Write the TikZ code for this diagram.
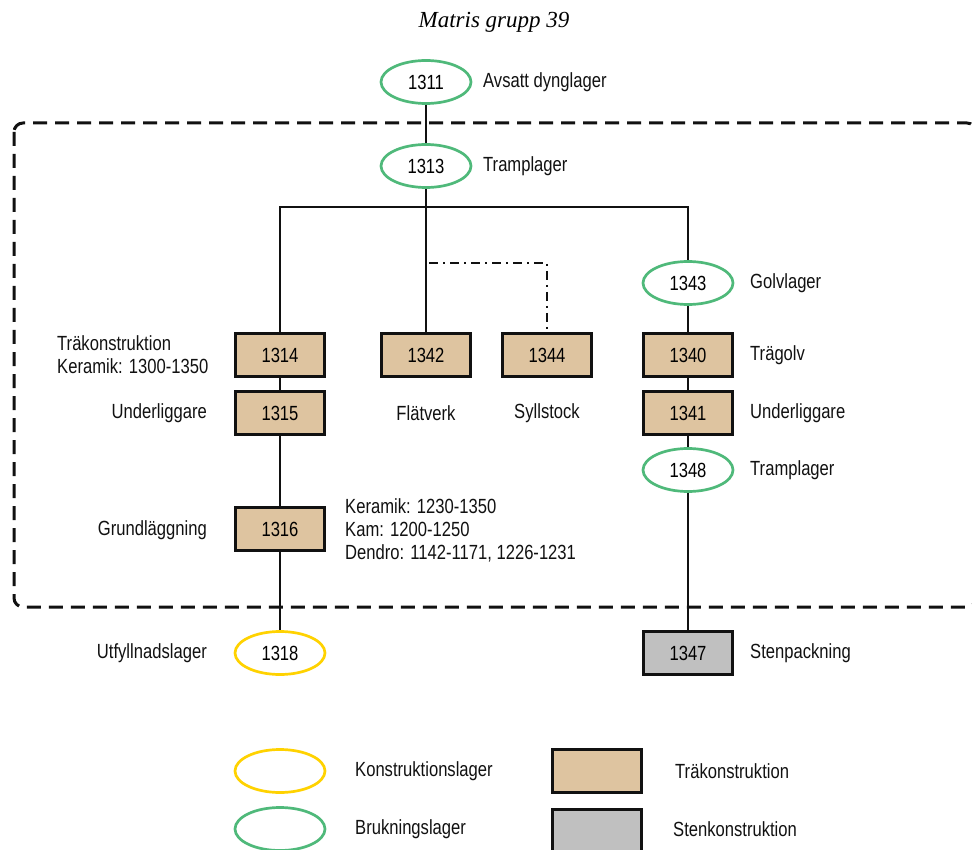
\documentclass[tikz,border=0pt]{standalone}
\usepackage{fontspec}
\setmainfont{Liberation Sans}[FakeStretch=0.81]
\newfontfamily\titlefont{Liberation Serif}
\usepackage{xcolor}
\usepackage{tikz}
\usetikzlibrary{positioning,shapes.geometric}
\definecolor{brukgreen}{HTML}{4FB97A}
\definecolor{konstyellow}{HTML}{FFD200}
\definecolor{woodtan}{HTML}{DEC4A0}
\definecolor{stonegray}{HTML}{C0C0C0}
\definecolor{ink}{HTML}{111111}
\newcommand{\lblsize}{\fontsize{20.5}{23}\selectfont}
\tikzset{
  layer/.style={ellipse,draw,line width=2.7pt,fill=white,inner sep=0pt,
                minimum width=90pt,minimum height=43pt,font=\lblsize},
  bruk/.style={layer,draw=brukgreen},
  konst/.style={layer,draw=konstyellow},
  woodbox/.style={rectangle,draw=ink,fill=woodtan,line width=3pt,
                  minimum width=89pt,minimum height=43pt,font=\lblsize},
  stonebox/.style={woodbox,fill=stonegray},
  lbl/.style={font=\lblsize,inner sep=0pt,text=ink},
  link/.style={draw=ink,line width=2.8pt},
  linkdd/.style={link,dash pattern=on 9pt off 5pt on 2pt off 5pt},
  grpbox/.style={draw=ink,line width=3pt,dash pattern=on 14pt off 8pt,
                 rounded corners=9pt},
}
\begin{document}
\begin{tikzpicture}[x=1pt,y=-1pt]
  \useasboundingbox (0,0) rectangle (972,850);
  % Title
  \node[font=\titlefont\itshape\fontsize{23}{26}\selectfont,inner sep=0pt]
    (title) at (494,22) {Matris grupp 39};
  % Group frame
  \draw[grpbox] (14,123) rectangle (976,607);
  % Layers
  \node[bruk] (n1311) at (426,82) {1311};
  \node[bruk] (n1313) at (426,166) {1313};
  \node[woodbox] (n1314) at (280,355) {1314};
  \node[woodbox] (n1315) at (280,413) {1315};
  \node[woodbox] (n1316) at (280,529) {1316};
  \node[konst] (n1318) at (280,653) {1318};
  \node[woodbox] (n1342) at (426,355) {1342};
  \node[woodbox] (n1344) at (547,355) {1344};
  \node[bruk] (n1343) at (688,283) {1343};
  \node[woodbox] (n1340) at (688,355) {1340};
  \node[woodbox] (n1341) at (688,413) {1341};
  \node[bruk] (n1348) at (688,470) {1348};
  \node[stonebox] (n1347) at (688,653) {1347};
  % Connectors
  \coordinate (bar) at (426,207);
  \coordinate (ddstart) at (429,263);
  \draw[link] (n1311) -- (n1313);
  \draw[link] (n1313) -- (n1342);
  \draw[link] (n1314) |- (bar) -| (n1343);
  \draw[linkdd] (ddstart) -| (n1344);
  \draw[link] (n1314) -- (n1315);
  \draw[link] (n1315) -- (n1316);
  \draw[link] (n1316) -- (n1318);
  \draw[link] (n1343) -- (n1340);
  \draw[link] (n1340) -- (n1341);
  \draw[link] (n1341) -- (n1348);
  \draw[link] (n1348) -- (n1347);
  % Labels
  \node[lbl,anchor=west] (t1311) at (483,82) {Avsatt dynglager};
  \node[lbl,anchor=west] (t1313) at (483,166) {Tramplager};
  \node[lbl,anchor=west,align=left] (t1314) at (57,355)
    {Träkonstruktion\\Keramik: 1300-1350};
  \node[lbl,anchor=east] (t1315) at (207,413) {Underliggare};
  \node[lbl,anchor=east] (t1316) at (207,530) {Grundläggning};
  \node[lbl,anchor=east] (t1318) at (207,653) {Utfyllnadslager};
  \node[lbl,anchor=west,align=left] (dating) at (345,530)
    {Keramik: 1230-1350\\Kam: 1200-1250\\Dendro: 1142-1171, 1226-1231};
  \node[lbl] (t1342) at (426,413) {Flätverk};
  \node[lbl] (t1344) at (547,413) {Syllstock};
  \node[lbl,anchor=west] (t1343) at (750,283) {Golvlager};
  \node[lbl,anchor=west] (t1340) at (750,355) {Trägolv};
  \node[lbl,anchor=west] (t1341) at (750,413) {Underliggare};
  \node[lbl,anchor=west] (t1348) at (750,470) {Tramplager};
  \node[lbl,anchor=west] (t1347) at (750,653) {Stenpackning};
  % Legend
  \node[konst] (keykonst) at (280,771) {};
  \node[bruk] (keybruk) at (280,829) {};
  \node[woodbox] (keywood) at (597,771) {};
  \node[stonebox] (keystone) at (597,831) {};
  \node[lbl,anchor=west] (tkonst) at (355,771) {Konstruktionslager};
  \node[lbl,anchor=west] (tbruk) at (355,829) {Brukningslager};
  \node[lbl,anchor=west] (twood) at (675,771) {Träkonstruktion};
  \node[lbl,anchor=west] (tstone) at (673,829) {Stenkonstruktion};
\end{tikzpicture}
\end{document}
